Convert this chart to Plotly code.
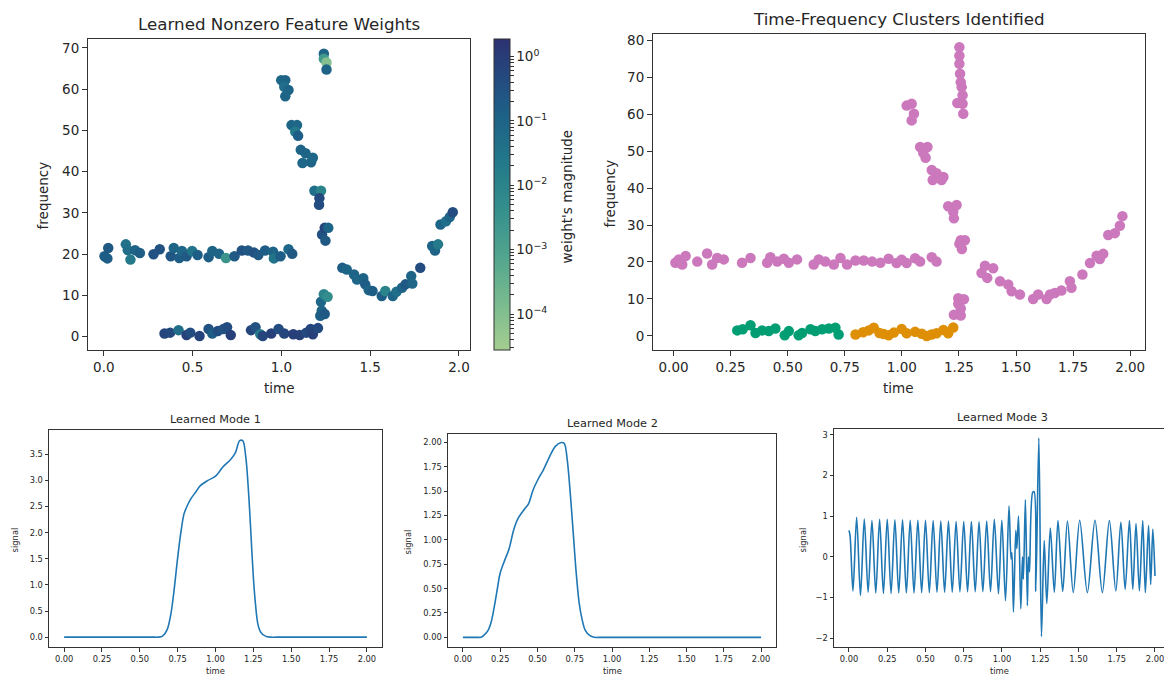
import numpy as np
import plotly.graph_objects as go

W, H = 1164, 676
FONT = "DejaVu Sans"
TXT = "#262626"
LINE = "#333333"

# ---------------- Learned Nonzero Feature Weights ----------------
fw_time = [0.004, 0.025, 0.02, 0.124, 0.135, 0.15, 0.176, 0.203, 0.28, 0.315,
           0.377, 0.394, 0.425, 0.44, 0.466, 0.497, 0.528, 0.59, 0.611, 0.649,
           0.688, 0.736, 0.777, 0.812, 0.846, 0.87, 0.908, 0.953, 0.958, 0.995,
           1.04, 1.061,
           0.342, 0.373, 0.421, 0.466, 0.487, 0.539, 0.59, 0.611, 0.642, 0.674,
           0.694, 0.715, 0.829, 0.854, 0.881, 0.895, 0.943, 0.984, 1.016, 1.067,
           1.103, 1.14, 1.165, 1.177, 1.206,
           0.999, 1.022, 1.016, 1.04, 1.022, 1.057, 1.088, 1.078, 1.094, 1.109,
           1.136, 1.119, 1.167, 1.177, 1.186, 1.223, 1.214, 1.212, 1.229, 1.244,
           1.264, 1.248, 1.223, 1.239, 1.26, 1.227, 1.219, 1.244, 1.239, 1.239,
           1.254, 1.254,
           1.343, 1.368, 1.409, 1.426, 1.461, 1.472, 1.492, 1.513, 1.565, 1.585,
           1.627, 1.648, 1.679, 1.699, 1.731, 1.737, 1.782, 1.849, 1.865, 1.882,
           1.896, 1.927, 1.948, 1.965]
fw_freq = [19.5, 21.5, 19.0, 22.4, 21.0, 18.7, 21.0, 20.3, 20.0, 21.2,
           19.5, 21.5, 19.1, 20.8, 19.5, 20.8, 19.8, 19.3, 20.8, 20.1,
           19.1, 19.5, 20.9, 20.9, 20.4, 19.8, 20.9, 20.6, 19.0, 19.5,
           21.2, 20.1,
           0.8, 1.0, 1.6, 0.4, 1.0, 0.2, 1.9, 0.8, 1.4, 1.9,
           2.3, 0.4, 1.6, 2.3, 0.6, 0.2, 0.8, 1.9, 0.8, 0.6,
           0.4, 1.0, 1.9, 0.6, 2.1,
           62.2, 62.2, 60.6, 59.8, 58.3, 51.3, 51.3, 49.7, 48.7, 45.3,
           44.5, 42.1, 42.3, 43.4, 35.4, 35.4, 33.6, 32.0, 24.8, 26.4,
           26.4, 23.3, 8.5, 10.3, 9.7, 6.3, 5.1, 5.5, 68.6, 67.4,
           66.5, 64.8,
           16.7, 16.3, 15.1, 13.9, 14.2, 12.7, 11.3, 11.1, 9.9, 11.1,
           9.9, 10.9, 11.9, 12.7, 14.7, 12.9, 16.7, 22.0, 20.9, 22.4,
           27.2, 28.0, 29.0, 30.2]
fw_weight = [0.15, 0.2, 0.15, 0.04, 0.05, 0.02, 0.1, 0.15, 0.3, 0.3,
             0.25, 0.1, 0.15, 0.08, 0.2, 0.03, 0.15, 0.15, 0.1, 0.1,
             0.003, 0.2, 0.3, 0.2, 0.3, 0.2, 0.15, 0.1, 0.03, 0.15,
             0.08, 0.2,
             0.6, 0.5, 0.05, 0.8, 0.4, 0.7, 0.3, 0.15, 0.4, 0.3,
             0.4, 0.8, 0.6, 0.3, 0.02, 0.6, 0.8, 0.4, 0.6, 0.8,
             0.8, 0.5, 0.6, 0.8, 0.5,
             0.08, 0.1, 0.05, 0.1, 0.1, 0.1, 0.08, 0.02, 0.15, 0.1,
             0.1, 0.08, 0.1, 0.08, 0.05, 0.01, 0.5, 0.4, 0.3, 0.6,
             0.1, 0.2, 0.08, 0.01, 0.005, 0.1, 0.15, 0.2, 0.1, 0.002,
             0.0001, 0.1,
             0.15, 0.1, 0.1, 0.08, 0.1, 0.15, 0.1, 0.15, 0.15, 0.01,
             0.1, 0.05, 0.1, 0.2, 0.1, 0.08, 0.4, 0.1, 0.1, 0.02,
             0.1, 0.05, 0.1, 0.4]

# ---------------- Time-Frequency Clusters Identified ----------------
c_pink_time = [0.008, 0.023, 0.038, 0.053, 0.104, 0.147, 0.169, 0.191, 0.22, 0.3,
               0.337, 0.41, 0.424, 0.454, 0.483, 0.505, 0.541, 0.614, 0.636, 0.665,
               0.702, 0.731, 0.76, 0.797, 0.833, 0.87, 0.906, 0.942, 0.977, 0.999,
               1.021, 1.058, 1.08, 1.131, 1.152,
               1.021, 1.043, 1.053, 1.043, 1.08, 1.112, 1.094, 1.104, 1.131, 1.152,
               1.135, 1.182, 1.174, 1.203, 1.24, 1.225, 1.228, 1.258, 1.276, 1.252,
               1.263,
               1.252, 1.252, 1.252, 1.255, 1.258, 1.262, 1.266, 1.243, 1.266, 1.269,
               1.247, 1.272, 1.247, 1.258, 1.228, 1.258,
               1.364, 1.4, 1.349, 1.374, 1.43, 1.466, 1.481, 1.517, 1.575, 1.597,
               1.634, 1.649, 1.67, 1.699, 1.736, 1.743, 1.791, 1.824, 1.853, 1.882,
               1.867, 1.904, 1.933, 1.955, 1.966]
c_pink_freq = [19.8, 20.7, 19.3, 21.6, 20.1, 22.3, 19.3, 21.1, 20.7, 19.8,
               21.1, 19.8, 21.3, 20.1, 20.9, 19.8, 20.7, 19.3, 20.7, 20.1,
               19.3, 21.1, 19.3, 20.4, 20.4, 20.1, 19.8, 20.9, 19.7, 20.6,
               19.7, 21.0, 20.1, 21.3, 20.1,
               62.3, 62.8, 60.1, 58.3, 51.1, 51.1, 49.5, 48.2, 44.9, 44.0,
               42.2, 43.0, 42.2, 35.1, 35.4, 33.6, 31.8, 25.9, 25.9, 24.9,
               23.5,
               78.1, 75.8, 73.6, 70.9, 68.6, 67.3, 65.1, 63.0, 62.8, 60.1,
               10.2, 9.9, 8.7, 7.4, 5.7, 5.5,
               19.0, 18.3, 17.0, 15.7, 14.8, 13.9, 12.1, 11.2, 10.0, 11.2,
               10.0, 11.2, 11.6, 12.3, 14.8, 13.0, 16.6, 19.7, 21.7, 22.2,
               20.8, 27.3, 27.8, 29.8, 32.4]
c_green_time = [0.279, 0.303, 0.337, 0.359, 0.388, 0.417, 0.446, 0.487, 0.505, 0.548,
                0.563, 0.6, 0.621, 0.651, 0.68, 0.709, 0.723]
c_green_freq = [1.5, 1.8, 2.9, 0.8, 1.5, 1.3, 2.0, 0.2, 1.3, 0.2,
                0.8, 1.8, 1.3, 1.8, 2.0, 2.2, 0.4]
c_orange_time = [0.797, 0.83, 0.855, 0.877, 0.902, 0.92, 0.942, 0.965, 0.999, 1.021,
                 1.058, 1.087, 1.109, 1.13, 1.152, 1.182, 1.203, 1.225]
c_orange_freq = [0.4, 1.0, 1.5, 2.2, 0.8, 0.5, 0.2, 0.9, 1.9, 0.7,
                 1.1, 0.6, 0.0, 0.4, 0.7, 1.6, 0.7, 2.3]

# ---------------- Learned modes ----------------
m1_t = [0.0, 0.1, 0.2, 0.3, 0.4, 0.5, 0.56, 0.6, 0.62, 0.65, 0.68, 0.705, 0.726,
        0.748, 0.77, 0.792, 0.814, 0.84, 0.87, 0.9, 0.95, 1.0, 1.05, 1.1, 1.13,
        1.16, 1.18, 1.2, 1.22, 1.234, 1.25, 1.262, 1.28, 1.3, 1.33, 1.36, 1.4,
        1.45, 1.5, 1.6, 1.7, 1.8, 1.9, 2.0]
m1_v = [0.0, 0.0, 0.0, 0.0, 0.0, 0.0, 0.0, 0.0, 0.0, 0.02, 0.14, 0.44, 0.89,
        1.47, 1.98, 2.36, 2.52, 2.66, 2.78, 2.9, 3.0, 3.08, 3.26, 3.4, 3.52,
        3.76, 3.76, 3.45, 2.7, 1.98, 1.15, 0.7, 0.25, 0.09, 0.02, 0.0, 0.0,
        0.0, 0.0, 0.0, 0.0, 0.0, 0.0, 0.0]
m2_t = [0.0, 0.04, 0.08, 0.1, 0.12, 0.14, 0.17, 0.19, 0.21, 0.23, 0.25, 0.28, 0.31,
        0.34, 0.37, 0.41, 0.44, 0.47, 0.5, 0.54, 0.58, 0.62, 0.66, 0.68, 0.7, 0.72,
        0.74, 0.76, 0.78, 0.8, 0.82, 0.85, 0.88, 0.92, 0.96, 1.0, 1.1, 1.2, 1.3,
        1.4, 1.5, 1.6, 1.7, 1.8, 1.9, 2.0]
m2_v = [0.0, 0.0, 0.0, 0.0, 0.0, 0.02, 0.075, 0.16, 0.31, 0.49, 0.66, 0.79, 0.91,
        1.1, 1.22, 1.31, 1.37, 1.51, 1.61, 1.72, 1.85, 1.96, 2.0, 1.99, 1.82, 1.48,
        1.07, 0.66, 0.35, 0.18, 0.075, 0.02, 0.0, 0.0, 0.0, 0.0, 0.0, 0.0, 0.0,
        0.0, 0.0, 0.0, 0.0, 0.0, 0.0, 0.0]
m3_t = [0.0, 0.007, 0.026, 0.05, 0.075, 0.1, 0.125, 0.15, 0.175, 0.2, 0.225, 0.25,
        0.275, 0.3, 0.325, 0.35, 0.375, 0.4, 0.425, 0.45, 0.475, 0.5, 0.525, 0.55,
        0.575, 0.6, 0.625, 0.65, 0.675, 0.7, 0.725, 0.75, 0.775, 0.8, 0.825, 0.85,
        0.875, 0.9, 0.925, 0.95, 0.977, 0.999, 1.023, 1.046, 1.059, 1.065, 1.075,
        1.09, 1.097, 1.108, 1.123, 1.134, 1.14, 1.153, 1.166, 1.173, 1.18, 1.201,
        1.21, 1.221, 1.241, 1.258, 1.276, 1.293, 1.316, 1.342, 1.366, 1.397, 1.428,
        1.466, 1.508, 1.558, 1.608, 1.656, 1.702, 1.744, 1.777, 1.805, 1.833, 1.855,
        1.876, 1.898, 1.92, 1.937, 1.958, 1.972, 1.986, 2.0]
m3_v = [0.65, 0.52, -0.84, 0.97, -0.95, 0.93, -0.87, 0.89, -0.89, 0.92, -0.9, 0.92,
        -0.9, 0.91, -0.89, 0.91, -0.89, 0.9, -0.89, 0.9, -0.88, 0.9, -0.88, 0.89,
        -0.87, 0.88, -0.87, 0.88, -0.87, 0.87, -0.86, 0.87, -0.86, 0.87, -0.86, 0.86,
        -0.86, 0.88, -0.86, 0.92, -0.91, 0.9, -1.08, 1.25, -0.05, 0.1, -1.36,
        0.65, 0.2, 1.0, -1.28, 0.0, -0.55, 1.41, -1.2, 0.0, -0.37, 1.59,
        1.6, -0.85, 2.92, -1.96, 0.4, -1.15, 0.71, -0.87, 0.89, -0.85, 0.88,
        -0.88, 0.9, -0.88, 0.9, -0.88, 0.89, -0.84, 0.85, -0.8, 0.89, -0.8,
        0.82, -0.84, 0.89, -0.88, 0.77, -0.68, 0.68, -0.47]

# colorbar scale (log10 of weight magnitude)
CB_MIN, CB_MAX = -4.557, 0.274
crest = [[0.0, "#a5cd90"], [0.15, "#79bb8f"], [0.3, "#52a58e"], [0.45, "#358f8c"],
         [0.6, "#23798a"], [0.75, "#1d6287"], [0.88, "#24497f"], [1.0, "#2c3172"]]

cb_vals, cb_text = [], []
for k in range(-5, 1):
    for m in range(1, 10):
        v = k + np.log10(m)
        if CB_MIN <= v <= CB_MAX:
            cb_vals.append(v)
            cb_text.append(f"10<sup>{'−' if k < 0 else ''}{abs(k)}</sup>" if m == 1 else "")


def px_x(p):
    return p / W


def px_y(p):
    return 1 - p / H


fig = go.Figure()

fig.add_trace(go.Scatter(
    x=fw_time, y=fw_freq, mode="markers", xaxis="x", yaxis="y",
    marker=dict(size=10.5, color=np.log10(fw_weight), colorscale=crest,
                cmin=CB_MIN, cmax=CB_MAX, line=dict(width=0),
                colorbar=dict(x=px_x(494), xanchor="left", y=px_y(193), yanchor="middle",
                              len=(349 - 37) / H, lenmode="fraction",
                              thickness=16, thicknessmode="pixels",
                              outlinewidth=1, outlinecolor=LINE,
                              tickmode="array", tickvals=cb_vals, ticktext=cb_text,
                              ticks="outside", ticklen=3.5, tickcolor=LINE,
                              tickfont=dict(family=FONT, size=13.5, color=TXT),
                              xpad=0, ypad=0)),
    showlegend=False, hoverinfo="x+y"))

for tx, fy, col in [(c_pink_time, c_pink_freq, "#cc78bc"),
                    (c_green_time, c_green_freq, "#029e73"),
                    (c_orange_time, c_orange_freq, "#de8f05")]:
    fig.add_trace(go.Scatter(x=tx, y=fy, mode="markers", xaxis="x2", yaxis="y2",
                             marker=dict(size=10.5, color=col, line=dict(width=0)),
                             showlegend=False))

for tt, vv, ax in [(m1_t, m1_v, "3"), (m2_t, m2_v, "4"), (m3_t, m3_v, "5")]:
    fig.add_trace(go.Scatter(x=tt, y=vv, mode="lines", xaxis="x" + ax, yaxis="y" + ax,
                             line=dict(color="#1f77b4", width=1.6, shape="spline",
                                       smoothing=0.9),
                             showlegend=False))


def axis(domain, rng, dtick, fmt, size, ticklen, anchor, mirror=True):
    return dict(domain=domain, range=rng, dtick=dtick, tick0=0, tickformat=fmt,
                showline=True, linecolor=LINE, linewidth=1, mirror=mirror,
                ticks="outside", ticklen=ticklen, tickcolor=LINE, tickwidth=1,
                showgrid=False, zeroline=False, anchor=anchor,
                ticklabeloverflow="allow",
                tickfont=dict(family=FONT, size=size, color=TXT))


BIG, SMALL = 13.5, 8.3
layout = dict(
    width=W, height=H, margin=dict(l=0, r=0, t=0, b=0),
    paper_bgcolor="white", plot_bgcolor="white",
    xaxis=axis([px_x(88), px_x(470)], [-0.089, 2.062], 0.5, ".1f", BIG, 5, "y"),
    yaxis=axis([px_y(349), px_y(37)], [-3.2, 72.2], 10, "d", BIG, 5, "x"),
    xaxis2=axis([px_x(653), px_x(1145)], [-0.09, 2.065], 0.25, ".2f", BIG, 5, "y2"),
    yaxis2=axis([px_y(349), px_y(32)], [-3.8, 81.7], 10, "d", BIG, 5, "x2"),
    xaxis3=axis([px_x(49), px_x(382)], [-0.1, 2.1], 0.25, ".2f", SMALL, 3.5, "y3"),
    yaxis3=axis([px_y(647), px_y(429)], [-0.19, 3.97], 0.5, ".1f", SMALL, 3.5, "x3"),
    xaxis4=axis([px_x(448), px_x(776)], [-0.1, 2.1], 0.25, ".2f", SMALL, 3.5, "y4"),
    yaxis4=axis([px_y(647), px_y(433)], [-0.1, 2.09], 0.25, ".2f", SMALL, 3.5, "x4"),
    xaxis5=axis([px_x(834), 1.0], [-0.098, 2.059], 0.25, ".2f", SMALL, 3.5, "y5"),
    yaxis5=axis([px_y(647), px_y(428)], [-2.22, 3.15], 1, "d", SMALL, 3.5, "x5",
                mirror=False),
)
fig.update_layout(**layout)

ann = []


def text(s, x, y, size, angle=0):
    ann.append(dict(text=s, x=px_x(x), y=px_y(y), xref="paper", yref="paper",
                    showarrow=False, xanchor="center", yanchor="middle", textangle=angle,
                    font=dict(family=FONT, size=size, color=TXT)))


text("Learned Nonzero Feature Weights", 279, 22, 16.7)
text("Time-Frequency Clusters Identified", 899, 17, 16.7)
text("Learned Mode 1", 215.5, 419, 11.3)
text("Learned Mode 2", 612, 423, 11.3)
text("Learned Mode 3", 1002, 417, 11.3)
text("time", 279, 387, 13.5)
text("frequency", 43, 194, 13.5, -90)
text("weight's magnitude", 567, 195, 13.5, -90)
text("time", 898, 387, 13.5)
text("frequency", 610, 192, 13.5, -90)
text("time", 215, 671, 8.4)
text("signal", 15, 540, 8.4, -90)
text("time", 612, 671, 8.4)
text("signal", 408, 542, 8.4, -90)
text("time", 1000, 671, 8.4)
text("signal", 803, 540, 8.4, -90)
fig.update_layout(annotations=ann)

fig.write_html("out.html")
